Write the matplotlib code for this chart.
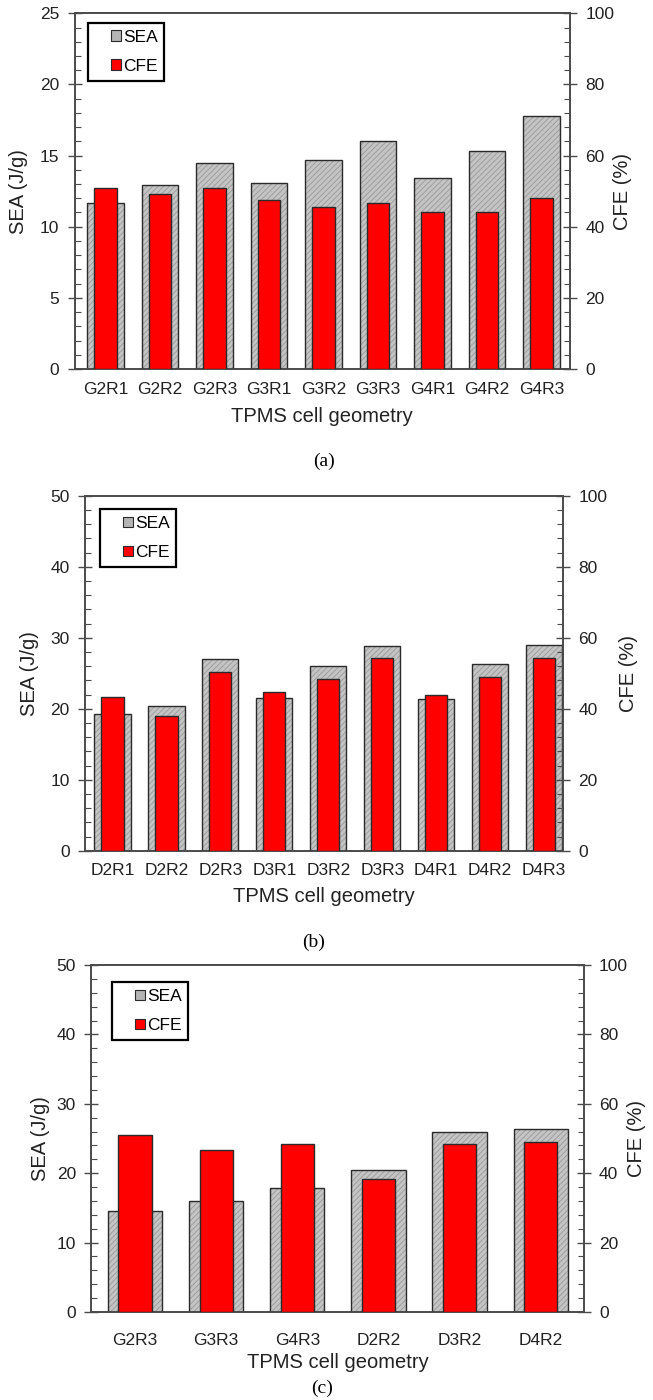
import matplotlib; matplotlib.use('Agg')
import numpy as np
import matplotlib.pyplot as plt
import matplotlib.ticker as ticker
from matplotlib.patches import Rectangle, Patch
from matplotlib.legend_handler import HandlerPatch

W, H, DPI = 653, 1400, 100
PNG_FILENAME = 'out.png'

SEA_COLOR = '#c4c4c4'
SEA_HATCH = '#999999'
CFE_COLOR = '#ff0000'
EDGE = '#2a2a2a'
AXIS = '#4a4a4a'

# (a) gyroid cells
geom_a = ['G2R1', 'G2R2', 'G2R3', 'G3R1', 'G3R2', 'G3R3', 'G4R1', 'G4R2', 'G4R3']
sea_a = [11.7, 12.9, 14.45, 13.1, 14.7, 16.0, 13.45, 15.3, 17.75]
cfe_a = [50.8, 49.2, 51.0, 47.5, 45.6, 46.6, 44.0, 44.0, 48.2]

# (b) diamond cells
geom_b = ['D2R1', 'D2R2', 'D2R3', 'D3R1', 'D3R2', 'D3R3', 'D4R1', 'D4R2', 'D4R3']
sea_b = [19.3, 20.45, 27.05, 21.5, 26.0, 28.9, 21.3, 26.3, 29.0]
cfe_b = [43.3, 38.0, 50.2, 44.8, 48.3, 54.2, 43.8, 49.0, 54.2]

# (c) selected cells
geom_c = ['G2R3', 'G3R3', 'G4R3', 'D2R2', 'D3R2', 'D4R2']
sea_c = [14.5, 16.0, 17.8, 20.5, 26.0, 26.35]
cfe_c = [51.1, 46.6, 48.4, 38.2, 48.5, 49.1]

plt.rcParams['font.family'] = ['Liberation Sans', 'DejaVu Sans']
plt.rcParams['hatch.linewidth'] = 0.6


def square_handle(legend, orig_handle, xdescent, ydescent, width, height, fontsize):
    # small square sitting at the right end of the handle box
    s = 0.6 * fontsize
    return Rectangle((width - s - xdescent, (height - s) / 2 - ydescent), s, s)


def draw_panel(fig, box, names, sea, cfe, sea_max, sea_step, xlim,
               tick_pad, xlab_y, ylab_x, leg_xy, letter, letter_xy):
    x0, x1, yt, yb = box
    ax = fig.add_axes([x0 / W, 1 - yb / H, (x1 - x0) / W, (yb - yt) / H])
    ax2 = ax.twinx()
    x = np.arange(len(names))

    ax.bar(x, sea, width=0.67, color=SEA_COLOR, edgecolor=SEA_HATCH,
           hatch='//////', linewidth=0, zorder=2)
    ax.bar(x, sea, width=0.67, fill=False, edgecolor=EDGE, linewidth=1.0, zorder=3)
    ax2.bar(x, cfe, width=0.41, color=CFE_COLOR, edgecolor=EDGE, linewidth=1.0, zorder=3)

    ax.set_xlim(*xlim)
    ax.set_ylim(0, sea_max)
    ax2.set_ylim(0, 100)
    ax.yaxis.set_major_locator(ticker.MultipleLocator(sea_step))
    ax.yaxis.set_minor_locator(ticker.MultipleLocator(sea_step / 5))
    ax2.yaxis.set_major_locator(ticker.MultipleLocator(20))
    ax2.yaxis.set_minor_locator(ticker.MultipleLocator(4))

    ax.set_xticks(x)
    ax.set_xticklabels(names)
    ax.tick_params(axis='x', length=0, pad=tick_pad, labelsize=12.5, labelcolor='#222222')
    for a in (ax, ax2):
        a.tick_params(axis='y', which='major', direction='inout', length=10, width=1,
                      color=AXIS, pad=6, labelsize=12.5, labelcolor='#222222')
        a.tick_params(axis='y', which='minor', direction='in', length=4, width=0.8,
                      color=AXIS)
        for sp in a.spines.values():
            sp.set_color(AXIS)
            sp.set_linewidth(1.2)

    ax.set_xlabel('TPMS cell geometry', fontsize=14.5, color='#222222', va='center')
    ax.xaxis.set_label_coords(0.5, (yb - xlab_y) / (yb - yt))
    ax.set_ylabel('SEA (J/g)', fontsize=14.5, color='#222222', va='center')
    ax.yaxis.set_label_coords((ylab_x[0] - x0) / (x1 - x0), 0.5)
    ax2.set_ylabel('CFE (%)', fontsize=14.5, color='#222222', va='center')
    ax2.yaxis.set_label_coords((ylab_x[1] - x0) / (x1 - x0), 0.5)

    handles = [Patch(facecolor='#b4b4b4', edgecolor=EDGE, linewidth=0.8),
               Patch(facecolor=CFE_COLOR, edgecolor=EDGE, linewidth=0.8)]
    leg = ax2.legend(handles, ['SEA', 'CFE'], loc='upper left',
                     bbox_to_anchor=((leg_xy[0] - x0) / (x1 - x0), (yb - leg_xy[1]) / (yb - yt)),
                     borderaxespad=0, fontsize=12.5, frameon=True, fancybox=False,
                     framealpha=1, edgecolor='black', borderpad=0.4, labelspacing=0.8,
                     handlelength=1.5, handletextpad=0.1,
                     handler_map={Patch: HandlerPatch(patch_func=square_handle)})
    leg.get_frame().set_linewidth(1.6)

    fig.text(letter_xy[0] / W, 1 - letter_xy[1] / H, letter, ha='center', va='center',
             fontsize=14, family='Liberation Serif')


def generate_graphic():
    fig = plt.figure(figsize=(W / DPI, H / DPI), dpi=DPI)
    draw_panel(fig, (74.5, 570, 13.3, 369), geom_a, sea_a, cfe_a, 25, 5, (-0.57, 8.52),
               9, 416, (19, 623), (88, 22.5), '(a)', (324, 461))
    draw_panel(fig, (85, 563, 495.7, 850.7), geom_b, sea_b, cfe_b, 50, 10, (-0.51, 8.35),
               9, 896.7, (29, 628), (100, 509), '(b)', (314, 942))
    draw_panel(fig, (91.2, 583.7, 965, 1312), geom_c, sea_c, cfe_c, 50, 10, (-0.54, 5.53),
               15, 1362, (40.6, 636), (112, 982), '(c)', (322, 1388))
    fig.savefig(PNG_FILENAME, dpi=DPI)


if __name__ == "__main__":
    generate_graphic()
